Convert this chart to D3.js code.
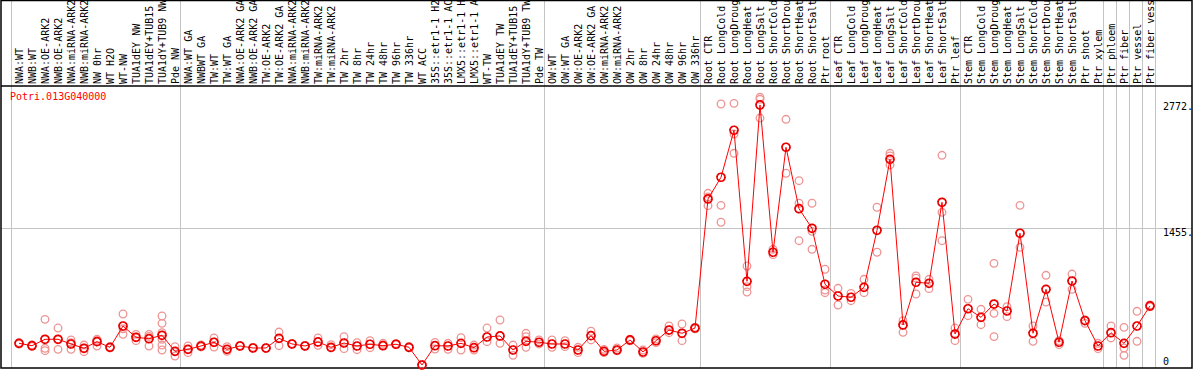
<!DOCTYPE html>
<html>
<head>
<meta charset="utf-8">
<script src="https://cdn.jsdelivr.net/npm/d3@7/dist/d3.min.js"></script>
<style>
  html, body { margin: 0; padding: 0; background: #fff; }
  svg { display: block; }
  text { font-family: "DejaVu Sans Mono", "Liberation Mono", monospace; font-size: 10px; }
</style>
</head>
<body>
<svg id="chart"></svg>
<script>
// sample labels, as printed (cut to 14 chars)
const samples = [
  "NWA:WT", "NWB:WT", "NWA:OE-ARK2", "NWB:OE-ARK2", "NWA:miRNA-ARK2", "NWB:miRNA-ARK2",
  "NW 0hr", "WT H2O", "WT-NW", "TUA1dEY NW", "TUA1dEY+TUB15", "TUA1dY+TUB9 NW", "Pde NW",
  "NWA:WT GA", "NWBWT GA", "TW:WT", "TW:WT GA", "NWA:OE-ARK2 GA", "NWB:OE-ARK2 GA",
  "TW:OE-ARK2", "TW:OE-ARK2 GA", "NWA:miRNA-ARK2", "NWB:miRNA-ARK2", "TW:miRNA-ARK2",
  "TW:miRNA-ARK2", "TW 2hr", "TW 8hr", "TW 24hr", "TW 48hr", "TW 96hr", "TW 336hr",
  "WT ACC", "35S::etr1-1 H2", "35S::etr1-1 AC", "LMX5::etr1-1 H", "LMX5::etr1-1 A",
  "WT-TW", "TUA1dEY TW", "TUA1dEY+TUB15", "TUA1dY+TUB9 TW", "Pde TW",
  "OW:WT", "OW:WT GA", "OW:OE-ARK2", "OW:OE-ARK2 GA", "OW:miRNA-ARK2", "OW:miRNA-ARK2",
  "OW 2hr", "OW 8hr", "OW 24hr", "OW 48hr", "OW 96hr", "OW 336hr",
  "Root CTR", "Root LongCold", "Root LongDroug", "Root LongHeat", "Root LongSalt",
  "Root ShortCold", "Root ShortDrou", "Root ShortHeat", "Root ShortSalt", "Ptr root",
  "Leaf CTR", "Leaf LongCold", "Leaf LongDroug", "Leaf LongHeat", "Leaf LongSalt",
  "Leaf ShortCold", "Leaf ShortDrou", "Leaf ShortHeat", "Leaf ShortSalt", "Ptr leaf",
  "Stem CTR", "Stem LongCold", "Stem LongDroug", "Stem LongHeat", "Stem LongSalt",
  "Stem ShortCold", "Stem ShortDrou", "Stem ShortHeat", "Stem ShortSalt", "Ptr shoot",
  "Ptr xylem", "Ptr phloem", "Ptr fiber", "Ptr vessel", "Ptr fiber vess"
];

// how many samples sit between two grey separators
const groupSizes = [13, 28, 12, 10, 10, 11, 1, 1, 1, 1];

// mean expression per sample
const means = [
  248, 223, 290, 290, 241, 196, 265, 206, 429, 311, 296, 332, 164,
  185, 220, 259, 185, 220, 199, 199, 300, 241, 220, 262, 206, 251, 220, 238, 223, 238,
  206, 21, 223, 220, 248, 202, 314, 325, 178, 269, 259,
  241, 241, 178, 328, 164, 178, 283, 157, 275, 387, 353, 408,
  1759, 1986, 2478, 897, 2743, 1201, 2300, 1657, 1452, 866,
  743, 730, 834, 1431, 2174, 440, 887, 876, 1724, 345,
  610, 520, 659, 586, 1400, 353, 813, 259, 900, 485, 220,
  359, 248, 429, 639
];

// replicate values per sample
const replicates = [
  [255, 240], [230, 215], [499, 196, 171], [408, 290, 185], [283, 185, 255],
  [230, 160, 196], [290, 220, 275], [200, 212], [555, 342, 400], [342, 276, 311],
  [342, 220, 320], [534, 457, 359, 290, 230, 178], [213, 115, 164],
  [220, 150, 185], [230, 210], [304, 209, 259], [213, 164], [220, 225], [199, 205],
  [199, 195], [366, 223, 300], [241, 245], [220, 225], [304, 227], [234, 200],
  [318, 192], [255, 181], [276, 202], [248, 230], [245, 235],
  [212, 200], [21, 25], [258, 188], [248, 185], [307, 178], [230, 178], [408, 265],
  [492, 248], [230, 122], [353, 318, 206], [283, 241],
  [283, 206], [276, 213], [206, 150], [374, 283], [185, 150], [199, 170],
  [290, 275], [178, 143], [293, 255], [429, 359], [450, 276], [400, 415],
  [1818, 1780, 1689], [2753, 1692, 1515], [2760, 2439, 2237], [1057, 841, 785],
  [2823, 2802, 2606], [1232, 1176], [2593, 2028], [1950, 1714, 1322],
  [1714, 1420, 1232], [1023, 806, 778],
  [824, 649], [771, 694], [918, 778], [1672, 1201], [2237, 2210, 2115], [485, 363],
  [953, 930, 764], [918, 820], [2216, 1619, 1322], [408, 276],
  [708, 537], [604, 443], [1085, 562, 318], [631, 527], [1692, 1253], [429, 269],
  [960, 680], [276, 234], [973, 813], [492, 457], [248, 192],
  [429, 304], [415, 199, 122], [583, 269], [650, 630]
];

const yTicks = [2772, 1455, 0];
const geneName = "Potri.013G040000";

const width = 1194, height = 370;
const headerBottom = 86, plotBottom = 368, frameRight = 1192;

const svg = d3.select("#chart").attr("width", width).attr("height", height);

const x = d3.scaleBand()
  .domain(d3.range(samples.length))
  .range([11, 1155]);
const px = i => x(i) + 8;

const y = d3.scaleLinear()
  .domain([0, 2910])
  .range([367, 89]);

// separators between sample groups
const seps = [0];
groupSizes.forEach(n => seps.push(seps[seps.length - 1] + n));
const sepX = d => (d < samples.length ? x(d) : x(d - 1) + x.bandwidth()) + 0.5;

const grid = svg.append("g").attr("stroke", "#c4c4c4").attr("stroke-width", 1);
grid.selectAll(".vsep")
  .data(seps)
  .enter()
  .append("line")
  .attr("x1", sepX)
  .attr("x2", sepX)
  .attr("y1", 0)
  .attr("y2", plotBottom);

grid.append("line")
  .attr("x1", 1).attr("x2", frameRight)
  .attr("y1", Math.round(y(1455)) + 0.5)
  .attr("y2", Math.round(y(1455)) + 0.5);

// frame
const frame = svg.append("g").attr("stroke", "#000").attr("stroke-width", 1.5);
frame.append("rect")
  .attr("x", 1).attr("y", 0.5)
  .attr("width", frameRight - 1).attr("height", plotBottom - 0.5)
  .attr("fill", "none");
frame.append("line")
  .attr("x1", 1).attr("x2", frameRight)
  .attr("y1", headerBottom).attr("y2", headerBottom);

// rotated sample names
svg.append("g")
  .selectAll("text")
  .data(samples)
  .enter()
  .append("text")
  .attr("transform", (d, i) => `translate(${px(i) + 3.5}, 84) rotate(-90)`)
  .attr("fill", "#000")
  .text(d => d);

// y labels
svg.append("g")
  .selectAll("text")
  .data(yTicks)
  .enter()
  .append("text")
  .attr("x", 1163)
  .attr("y", d => Math.min(y(d) + 8, 365))
  .attr("fill", "#000")
  .text(d => d === 0 ? "0" : d + ".");

svg.append("text")
  .attr("x", 10)
  .attr("y", 100)
  .attr("fill", "#ff0000")
  .text(geneName);

// replicate points
const reps = [];
replicates.forEach((vals, i) => vals.forEach(v => reps.push({ i: i, v: v })));

svg.append("g")
  .selectAll("circle")
  .data(reps)
  .enter()
  .append("circle")
  .attr("cx", d => px(d.i))
  .attr("cy", d => y(d.v))
  .attr("r", 3.8)
  .attr("fill", "none")
  .attr("stroke", "#ee9494")
  .attr("stroke-width", 1.3);

// mean line
const line = d3.line()
  .x((d, i) => px(i))
  .y(d => y(d));

svg.append("path")
  .datum(means)
  .attr("d", line)
  .attr("fill", "none")
  .attr("stroke", "#ff0000")
  .attr("stroke-width", 1);

const meanDots = svg.append("g")
  .selectAll("g")
  .data(means)
  .enter()
  .append("g")
  .attr("transform", (d, i) => `translate(${px(i)}, ${y(d)})`);

meanDots.append("circle")
  .attr("r", 4)
  .attr("fill", "none")
  .attr("stroke", "#ff0000")
  .attr("stroke-width", 1.7);

// the darker specks on the mean markers
meanDots.append("circle")
  .attr("r", 4)
  .attr("fill", "none")
  .attr("stroke", "#7a0000")
  .attr("stroke-width", 1)
  .attr("stroke-dasharray", "0.8 2.34");
</script>
</body>
</html>
